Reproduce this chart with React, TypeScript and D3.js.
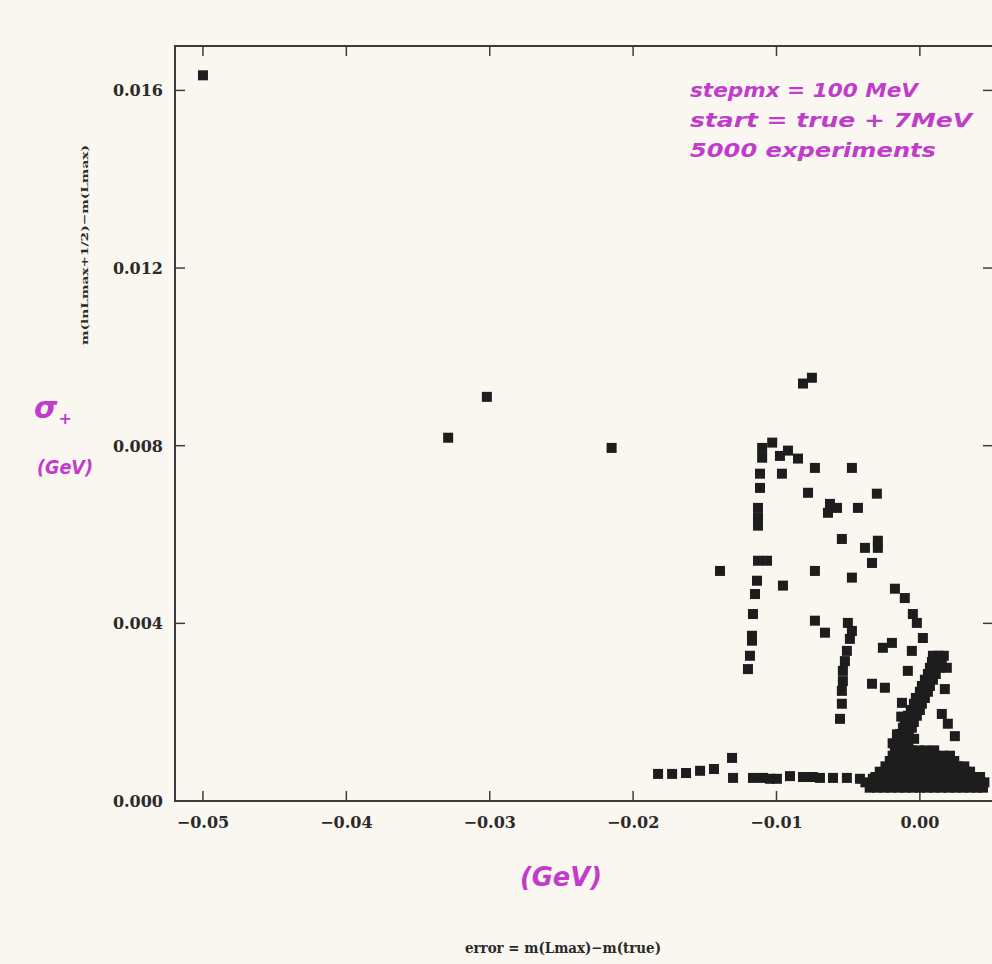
import * as d3 from "d3";

const W = 992;
const H = 964;
const PAPER = "#f9f7ef";
const INK = "#1d1d1d";
const PEN = "#c23ccc";
const SERIF = "'DejaVu Serif', 'Liberation Serif', serif";
const HAND = "'DejaVu Sans', 'Noto Sans', sans-serif";

const xTicks = [-0.05, -0.04, -0.03, -0.02, -0.01, 0.0];
const yTicks = [0, 0.004, 0.008, 0.012, 0.016];

// isolated points and the sparse upper structure
const scatter: [number, number][] = [
  [-0.05, 0.01634], [-0.0329, 0.00818], [-0.0302, 0.0091], [-0.0215, 0.00795],
  [-0.00815, 0.0094], [-0.00753, 0.00953],
  [-0.011, 0.00795], [-0.0103, 0.00807], [-0.011, 0.00773], [-0.00976, 0.00777],
  [-0.0092, 0.00789], [-0.0085, 0.00771], [-0.00732, 0.0075], [-0.00474, 0.0075],
  [-0.01115, 0.00737], [-0.01115, 0.00705], [-0.00962, 0.00737], [-0.0078, 0.00694],
  [-0.00627, 0.00669], [-0.00578, 0.0066], [-0.00641, 0.00649], [-0.00432, 0.0066],
  [-0.003, 0.00692], [-0.01129, 0.0066], [-0.01129, 0.00638], [-0.01129, 0.0062],
  [-0.00544, 0.0059], [-0.00383, 0.0057], [-0.00293, 0.00586], [-0.00293, 0.0057],
  [-0.00334, 0.00536], [-0.01129, 0.00541], [-0.01066, 0.00541], [-0.01394, 0.00518],
  [-0.00732, 0.00518], [-0.00474, 0.00503], [-0.01136, 0.00496], [-0.0115, 0.00466],
  [-0.01164, 0.00421], [-0.00955, 0.00485], [-0.01171, 0.00372], [-0.01171, 0.00361],
  [-0.01185, 0.00327], [-0.01199, 0.00297],
  [-0.00732, 0.00406], [-0.00662, 0.00379], [-0.00502, 0.00401], [-0.00474, 0.00383],
  [-0.00488, 0.00365], [-0.00509, 0.00338], [-0.00523, 0.00315], [-0.00537, 0.00293],
  [-0.00537, 0.0027], [-0.00544, 0.00248], [-0.00544, 0.00219], [-0.00557, 0.00185],
  [-0.00174, 0.00478], [-0.00105, 0.00457], [-0.00049, 0.00421], [-0.00021, 0.00401],
  [0.00021, 0.00367], [-0.00258, 0.00345], [-0.00195, 0.00356], [-0.00056, 0.00338],
  [-0.00084, 0.00293], [-0.00334, 0.00264], [-0.00244, 0.00255], [-0.00125, 0.00221],
  [0.00174, 0.00252], [0.00153, 0.00196], [0.00195, 0.00174], [0.00244, 0.00146],
];

// the long flat row near zero
const lowRow: [number, number][] = [
  [-0.01826, 0.00061], [-0.01728, 0.00061], [-0.01631, 0.00063], [-0.01533, 0.00068],
  [-0.01436, 0.00072], [-0.0131, 0.00097],
  [-0.01303, 0.00052], [-0.01164, 0.00052], [-0.01094, 0.00052], [-0.01045, 0.0005],
  [-0.00997, 0.0005], [-0.00906, 0.00056], [-0.00815, 0.00054], [-0.00746, 0.00054],
  [-0.00697, 0.00052], [-0.00606, 0.00052], [-0.00509, 0.00052], [-0.00418, 0.0005],
  [-0.00328, 0.0005],
];

// rising arm of the dense cluster
const arm: [number, number][] = [
  [-0.00174, 0.00124], [-0.00118, 0.00124], [-0.00153, 0.00137], [-0.00098, 0.00137],
  [-0.00139, 0.00151], [-0.00077, 0.00151], [-0.00118, 0.00165], [-0.00056, 0.00165],
  [-0.00105, 0.00178], [-0.00042, 0.00178], [-0.00084, 0.00192], [-0.00021, 0.00192],
  [-0.00063, 0.00205], [0.0, 0.00205], [-0.00042, 0.00219], [0.00014, 0.00219],
  [-0.00028, 0.00232], [0.00035, 0.00232], [0.0, 0.00246], [0.00056, 0.00246],
  [0.00014, 0.00259], [0.0007, 0.00259], [0.00035, 0.00273], [0.00091, 0.00273],
  [0.00056, 0.00286], [0.00111, 0.00286], [0.0007, 0.003], [0.00139, 0.003],
  [0.00084, 0.00313], [0.00153, 0.00313], [0.00091, 0.00327], [0.00167, 0.00327],
  [0.00188, 0.003], [0.00139, 0.0032], [-0.0016, 0.0011], [-0.0008, 0.0012], [-0.0004, 0.0014],
  [-0.00146, 0.00124], [-0.00126, 0.00137], [-0.00108, 0.00151], [-0.00087, 0.00165],
  [-0.00074, 0.00178], [-0.00053, 0.00192], [-0.00032, 0.00205], [-0.00014, 0.00219],
  [0.00004, 0.00232], [0.00028, 0.00246], [0.00042, 0.00259], [0.00063, 0.00273],
  [0.00084, 0.00286], [0.00105, 0.003], [0.00119, 0.00313], [0.00129, 0.00327],
  [-0.0016, 0.0015], [-0.0013, 0.0019], [-0.0019, 0.0013],
];

// dense core sitting on the axis around zero error
const core: [number, number][] = [
  [-0.0035, 0.0003], [-0.003, 0.0003], [-0.0025, 0.0003], [-0.002, 0.0003], [-0.0015, 0.0003],
  [-0.001, 0.0003], [-0.0005, 0.0003], [0.0, 0.0003], [0.0005, 0.0003], [0.001, 0.0003],
  [0.0015, 0.0003], [0.002, 0.0003], [0.0025, 0.0003], [0.003, 0.0003], [0.0035, 0.0003],
  [0.004, 0.0003], [0.0044, 0.0003],
  [-0.0038, 0.00042], [-0.0033, 0.00042], [-0.0028, 0.00042], [-0.0023, 0.00042],
  [-0.0018, 0.00042], [-0.0013, 0.00042], [-0.0008, 0.00042], [-0.0003, 0.00042],
  [0.0002, 0.00042], [0.0007, 0.00042], [0.0012, 0.00042], [0.0017, 0.00042],
  [0.0022, 0.00042], [0.0027, 0.00042], [0.0032, 0.00042], [0.0037, 0.00042],
  [0.0042, 0.00042], [0.0045, 0.00042],
  [-0.0031, 0.00054], [-0.0026, 0.00054], [-0.0021, 0.00054], [-0.0016, 0.00054],
  [-0.0011, 0.00054], [-0.0006, 0.00054], [-0.0001, 0.00054], [0.0004, 0.00054],
  [0.0009, 0.00054], [0.0014, 0.00054], [0.0019, 0.00054], [0.0024, 0.00054],
  [0.0029, 0.00054], [0.0034, 0.00054], [0.0039, 0.00054], [0.0042, 0.00054],
  [-0.0028, 0.00066], [-0.0023, 0.00066], [-0.0018, 0.00066], [-0.0013, 0.00066],
  [-0.0008, 0.00066], [-0.0003, 0.00066], [0.0002, 0.00066], [0.0007, 0.00066],
  [0.0012, 0.00066], [0.0017, 0.00066], [0.0022, 0.00066], [0.0027, 0.00066],
  [0.0032, 0.00066], [0.0035, 0.00066],
  [-0.0024, 0.00078], [-0.0019, 0.00078], [-0.0014, 0.00078], [-0.0009, 0.00078],
  [-0.0004, 0.00078], [0.0001, 0.00078], [0.0006, 0.00078], [0.0011, 0.00078],
  [0.0016, 0.00078], [0.0021, 0.00078], [0.0026, 0.00078], [0.0031, 0.00078],
  [-0.0021, 0.0009], [-0.0016, 0.0009], [-0.0011, 0.0009], [-0.0006, 0.0009],
  [-0.0001, 0.0009], [0.0004, 0.0009], [0.0009, 0.0009], [0.0014, 0.0009],
  [0.0019, 0.0009], [0.0024, 0.0009],
  [-0.0019, 0.00102], [-0.0014, 0.00102], [-0.0009, 0.00102], [-0.0004, 0.00102],
  [0.0001, 0.00102], [0.0006, 0.00102], [0.0011, 0.00102], [0.0016, 0.00102],
  [0.0021, 0.00102],
  [-0.0016, 0.00114], [-0.0011, 0.00114], [-0.0006, 0.00114], [-0.0001, 0.00114],
  [0.0004, 0.00114], [0.001, 0.00114],
];

const notes = ["stepmx = 100 MeV", "start = true + 7MeV", "5000 experiments"];
const noteWidths = [228, 282, 246];

export default function App() {
  const x = d3.scaleLinear().domain([-0.05195, 0.0051]).range([175, 993]);
  const y = d3.scaleLinear().domain([0, 0.017]).range([801, 46]);
  const [x0, x1] = x.range();
  const [yb, yt] = y.range();
  const S = 10;
  const tick = 10;
  const fx = d3.format(".2f");
  const fy = d3.format(".3f");
  const pts = [...scatter, ...lowRow, ...arm, ...core];

  return (
    <svg width={W} height={H} style={{ position: "absolute", left: 0, top: 0, display: "block" }}>
      <rect width={W} height={H} fill={PAPER} />

      {/* frame */}
      <rect x={x0} y={yt} width={x1 - x0} height={yb - yt} fill="none" stroke="#3c3c3c" strokeWidth={2} />

      {/* ticks, all pointing inward */}
      {xTicks.map((t) => (
        <g key={`x${t}`} stroke="#3c3c3c" strokeWidth={1.5}>
          <line x1={x(t)} x2={x(t)} y1={yb} y2={yb - tick} />
          <line x1={x(t)} x2={x(t)} y1={yt} y2={yt + tick} />
        </g>
      ))}
      {yTicks.map((t) => (
        <g key={`y${t}`} stroke="#3c3c3c" strokeWidth={1.5}>
          <line x1={x0} x2={x0 + tick} y1={y(t)} y2={y(t)} />
          <line x1={x1} x2={x1 - tick} y1={y(t)} y2={y(t)} />
        </g>
      ))}

      {/* tick labels */}
      {xTicks.map((t) => (
        <text key={`xl${t}`} x={x(t)} y={yb + 27} textAnchor="middle" fontFamily={SERIF} fontWeight="bold" fontSize={16} fill="#2a2a2a">
          {fx(t)}
        </text>
      ))}
      {yTicks.map((t) => (
        <text key={`yl${t}`} x={x0 - 12} y={y(t) + 6} textAnchor="end" fontFamily={SERIF} fontWeight="bold" fontSize={16} fill="#2a2a2a">
          {fy(t)}
        </text>
      ))}

      {/* points */}
      {pts.map((d, i) => (
        <rect key={i} x={x(d[0]) - S / 2} y={y(d[1]) - S / 2} width={S} height={S} fill={INK} />
      ))}

      {/* printed axis titles */}
      <text transform="translate(88,245) rotate(-90)" textAnchor="middle" fontFamily={SERIF} fontWeight="bold" fontSize={10} fill="#2a2a2a" textLength={200} lengthAdjust="spacingAndGlyphs">
        m(lnLmax+1/2)−m(Lmax)
      </text>
      <text x={563} y={953} textAnchor="middle" fontFamily={SERIF} fontWeight="bold" fontSize={15} fill="#2a2a2a" textLength={196} lengthAdjust="spacingAndGlyphs">
        error = m(Lmax)−m(true)
      </text>

      {/* handwritten notes */}
      <g fill={PEN} fontFamily={HAND} fontStyle="oblique" fontWeight="bold">
        {notes.map((n, i) => (
          <text key={n} x={690} y={97 + i * 30} fontSize={20} textLength={noteWidths[i]} lengthAdjust="spacingAndGlyphs">
            {n}
          </text>
        ))}
        <text x={34} y={418} fontSize={30}>σ<tspan dx={1} dy={6} fontSize={16}>+</tspan></text>
        <text x={37} y={474} fontSize={20} textLength={56} lengthAdjust="spacingAndGlyphs">(GeV)</text>
        <text x={520} y={886} fontSize={26} textLength={82} lengthAdjust="spacingAndGlyphs">(GeV)</text>
      </g>
    </svg>
  );
}
